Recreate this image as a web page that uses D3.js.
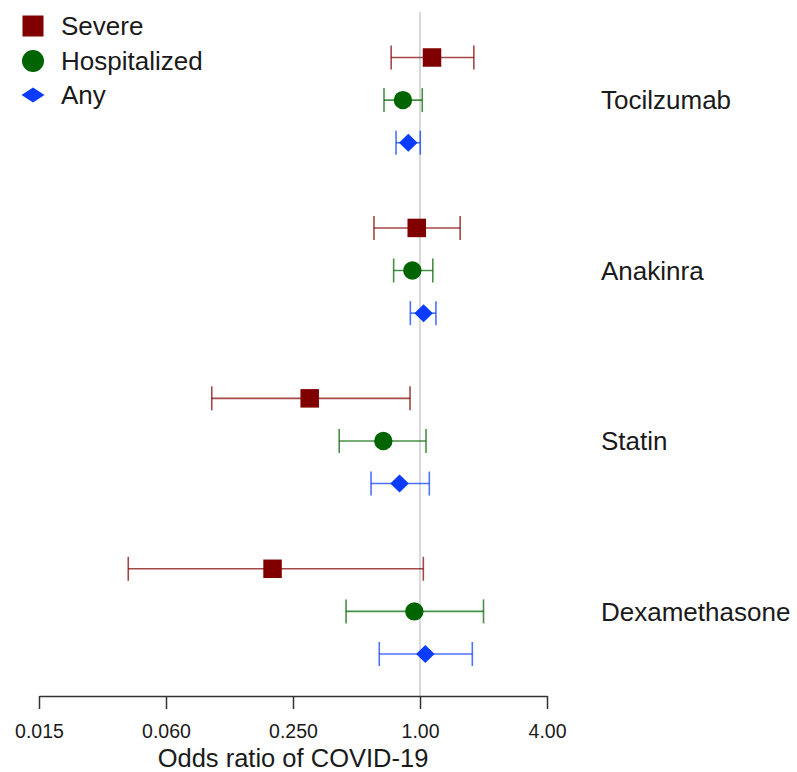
<!DOCTYPE html>
<html>
<head>
<meta charset="utf-8">
<script src="https://cdn.jsdelivr.net/npm/d3@7"></script>
<style>
  body { margin: 0; background: #fff; overflow: hidden; }
  text { font-family: "Liberation Sans", Arial, sans-serif; fill: #1a1a1a; }
</style>
</head>
<body>
<div id="forest"></div>
<script>
// values (odds ratios, log4 axis)
var drugs = ["Tocilzumab", "Anakinra", "Statin", "Dexamethasone"];
var outcomes = ["Severe", "Hospitalized", "Any"];

var oddsRatio = [
  [1.14, 0.83, 0.88],
  [0.965, 0.92, 1.04],
  [0.30, 0.67, 0.80],
  [0.20, 0.94, 1.06]
];
var ciLow = [
  [0.73, 0.675, 0.77],
  [0.605, 0.75, 0.90],
  [0.103, 0.414, 0.586],
  [0.0414, 0.446, 0.641]
];
var ciHigh = [
  [1.80, 1.025, 1.003],
  [1.55, 1.15, 1.19],
  [0.897, 1.068, 1.107],
  [1.037, 2.0, 1.77]
];

var tickValues = [0.015625, 0.0625, 0.25, 1, 4];
var tickLabels = ["0.015", "0.060", "0.250", "1.00", "4.00"];

var colors = { Severe: "#800000", Hospitalized: "#006400", Any: "#0a3bff" };

var width = 797, height = 772;

var svg = d3.select("#forest").append("svg")
    .attr("width", width)
    .attr("height", height)
    .style("display", "block");

var xScale = d3.scaleLog().base(4)
    .domain([tickValues[0], tickValues[tickValues.length - 1]])
    .range([39, 547]);

// one slot per row, an empty slot between drugs
var yScale = d3.scaleLinear().domain([0, 14]).range([57.5, 654]);

var rows = [];
drugs.forEach(function (drug, g) {
    outcomes.forEach(function (o, s) {
        rows.push({ drug: drug, outcome: o, slot: g * 4 + s,
                    or: oddsRatio[g][s], lo: ciLow[g][s], hi: ciHigh[g][s] });
    });
});

// reference line at OR = 1
svg.append("line")
    .attr("x1", xScale(1)).attr("x2", xScale(1))
    .attr("y1", 12).attr("y2", 696)
    .style("stroke", "#d9d9d9")
    .style("stroke-width", 2);

// x axis
var xAxis = svg.append("g")
    .attr("transform", "translate(0,696)")
    .call(d3.axisBottom(xScale)
        .tickValues(tickValues)
        .tickFormat(function (d, i) { return tickLabels[i]; })
        .tickSize(13)
        .tickSizeOuter(0)
        .tickPadding(15));
xAxis.select(".domain").style("stroke", "#333").style("stroke-width", 1.5);
xAxis.selectAll(".tick line").style("stroke", "#333").style("stroke-width", 1.5);
xAxis.selectAll(".tick text")
    .style("font-family", "'Liberation Sans', Arial, sans-serif")
    .style("font-size", "19.5px")
    .style("fill", "#1a1a1a");

svg.append("text")
    .attr("x", (xScale.range()[0] + xScale.range()[1]) / 2)
    .attr("y", 766.5)
    .attr("text-anchor", "middle")
    .style("font-size", "25.5px")
    .text("Odds ratio of COVID-19");

// confidence intervals
var ci = svg.selectAll(".ci")
    .data(rows)
    .enter().append("g")
    .attr("class", "ci")
    .style("stroke", function (d) { return colors[d.outcome]; })
    .style("stroke-opacity", 0.72)
    .style("stroke-width", 1.6);

ci.append("line")
    .attr("x1", function (d) { return xScale(d.lo); })
    .attr("x2", function (d) { return xScale(d.hi); })
    .attr("y1", function (d) { return yScale(d.slot); })
    .attr("y2", function (d) { return yScale(d.slot); });
ci.append("line")
    .attr("x1", function (d) { return xScale(d.lo); })
    .attr("x2", function (d) { return xScale(d.lo); })
    .attr("y1", function (d) { return yScale(d.slot) - 12; })
    .attr("y2", function (d) { return yScale(d.slot) + 12; });
ci.append("line")
    .attr("x1", function (d) { return xScale(d.hi); })
    .attr("x2", function (d) { return xScale(d.hi); })
    .attr("y1", function (d) { return yScale(d.slot) - 12; })
    .attr("y2", function (d) { return yScale(d.slot) + 12; });

// marker shapes
function diamond(w, h) {
    return "M0," + (-h / 2) + "L" + (w / 2) + ",0L0," + (h / 2) + "L" + (-w / 2) + ",0Z";
}
function markerPath(outcome, big) {
    if (outcome === "Severe") {
        var s = big ? 21 : 18.5;
        return d3.symbol().type(d3.symbolSquare).size(s * s)();
    }
    if (outcome === "Hospitalized") {
        var r = big ? 11 : 9.2;
        return d3.symbol().type(d3.symbolCircle).size(Math.PI * r * r)();
    }
    return big ? diamond(23, 15) : diamond(18.5, 18);
}

svg.selectAll(".point")
    .data(rows)
    .enter().append("path")
    .attr("class", "point")
    .attr("transform", function (d) {
        return "translate(" + xScale(d.or) + "," + yScale(d.slot) + ")";
    })
    .attr("d", function (d) { return markerPath(d.outcome, false); })
    .style("fill", function (d) { return colors[d.outcome]; });

// drug labels
svg.selectAll(".drug")
    .data(drugs)
    .enter().append("text")
    .attr("class", "drug")
    .attr("x", 601)
    .attr("y", function (d, g) { return yScale(g * 4 + 1) + 9.3; })
    .style("font-size", "26px")
    .text(function (d) { return d; });

// legend
var legendY = [26, 61, 95];
var legend = svg.selectAll(".legend")
    .data(outcomes)
    .enter().append("g")
    .attr("class", "legend")
    .attr("transform", function (d, i) { return "translate(33," + legendY[i] + ")"; });
legend.append("path")
    .attr("d", function (d) { return markerPath(d, true); })
    .style("fill", function (d) { return colors[d]; });
legend.append("text")
    .attr("x", 28)
    .attr("y", 9.3)
    .style("font-size", "26px")
    .text(function (d) { return d; });
</script>
</body>
</html>
